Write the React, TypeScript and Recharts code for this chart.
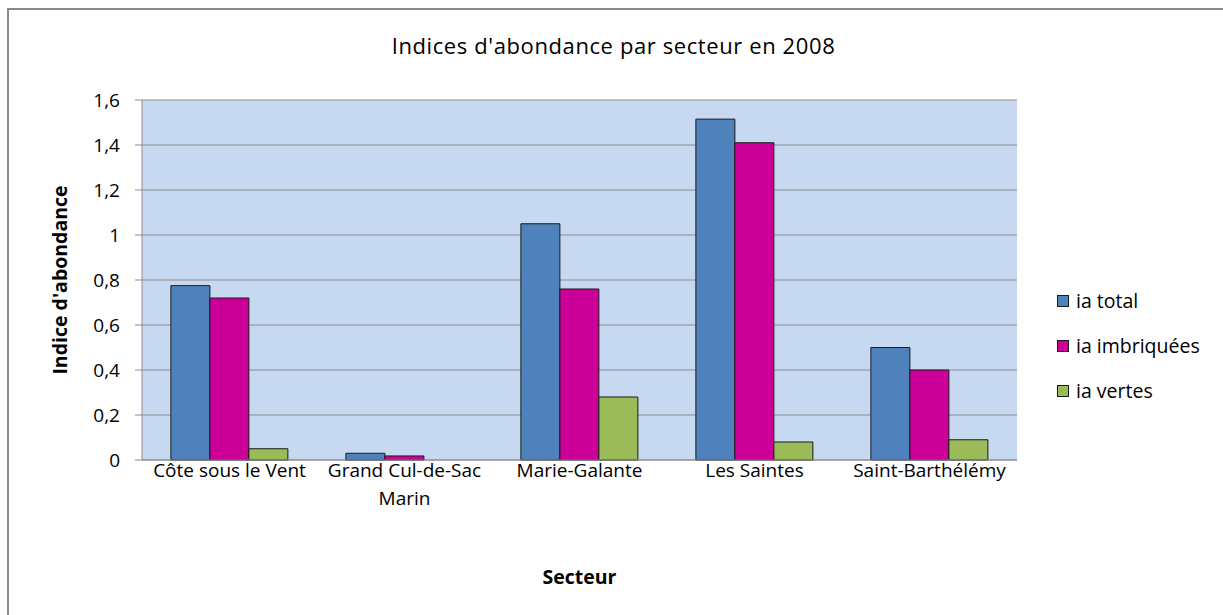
import { Bar, BarChart, CartesianGrid, Label, Text, XAxis, YAxis } from "recharts";

const sectors = ["Côte sous le Vent", "Grand Cul-de-Sac Marin", "Marie-Galante", "Les Saintes", "Saint-Barthélémy"];
const iaTotal = [0.775, 0.03, 1.05, 1.515, 0.5];
const iaImbriquees = [0.72, 0.018, 0.76, 1.41, 0.4];
const iaVertes = [0.05, 0, 0.28, 0.08, 0.09];
const yTicks = [0, 0.2, 0.4, 0.6, 0.8, 1, 1.2, 1.4, 1.6];

const series = [
  { key: "total", name: "ia total", color: "#4F81BD" },
  { key: "imbriquees", name: "ia imbriquées", color: "#CC0099" },
  { key: "vertes", name: "ia vertes", color: "#9BBB59" },
];

const data = sectors.map((sector, i) => ({
  sector,
  total: iaTotal[i],
  imbriquees: iaImbriquees[i],
  vertes: iaVertes[i],
}));

const FONT = "'Open Sans', Lato, sans-serif";

function SectorTick({ x, y, payload }: any) {
  return (
    <Text x={x} y={y} dy={-4} width={170} textAnchor="middle" verticalAnchor="start"
      lineHeight={28} style={{ fontSize: 19, fontFamily: FONT }} fill="#000">
      {payload.value}
    </Text>
  );
}

export default function App() {
  return (
    <div style={{ position: "fixed", left: 0, top: 0, width: 1223, height: 615, overflow: "hidden", background: "#fff" }}>
      <div style={{ position: "absolute", left: 7, top: 8, width: 1240, height: 640, border: "2px solid #898989", boxSizing: "border-box" }} />
      <div style={{ position: "absolute", left: 0, top: 30, width: 1223, textAlign: "center", fontFamily: FONT, fontSize: 22, fontWeight: 500, letterSpacing: 0.6, color: "#000", paddingLeft: 2 }}>
        Indices d'abondance par secteur en 2008
      </div>
      <div style={{ position: "absolute" }}>
        <BarChart width={1223} height={615} data={data} barGap={0} barCategoryGap="16.5%"
          margin={{ top: 100, right: 206, bottom: 25, left: 0 }}>
          <CartesianGrid horizontal vertical={false} fill="#C6D9F0" stroke="#8C8C8C" />
          <XAxis dataKey="sector" height={130} tickLine={false} stroke="#8C8C8C" interval={0} tick={<SectorTick />}>
            <Label content={({ viewBox }: any) => (
              <text x={viewBox.x + viewBox.width / 2} y={584} textAnchor="middle" fontFamily={FONT} fontSize={19.5} fontWeight={700}>Secteur</text>
            )} />
          </XAxis>
          <YAxis width={142} domain={[0, 1.6]} ticks={yTicks} tickSize={7} tickMargin={15} stroke="#8C8C8C"
            tickFormatter={(v: number) => String(v).replace(".", ",")}
            tick={{ fill: "#000", fontSize: 19, fontFamily: FONT }}>
            <Label content={({ viewBox }: any) => (
              <text x={67} y={viewBox.y + viewBox.height / 2} transform={`rotate(-90, 67, ${viewBox.y + viewBox.height / 2})`}
                textAnchor="middle" fontFamily={FONT} fontSize={19.5} fontWeight={700}>Indice d'abondance</text>
            )} />
          </YAxis>
          {series.map((s) => (
            <Bar key={s.key} dataKey={s.key} name={s.name} fill={s.color} stroke="#1a1a1a" strokeWidth={1} isAnimationActive={false} />
          ))}
        </BarChart>
      </div>
      <div style={{ position: "absolute", left: 1057, top: 278, fontFamily: FONT, fontSize: 19.5 }}>
        {series.map((s) => (
          <div key={s.key} style={{ display: "flex", alignItems: "center", height: 45 }}>
            <span style={{ width: 10, height: 10, background: s.color, border: "1px solid #1a1a1a", marginRight: 7, display: "inline-block" }} />
            {s.name}
          </div>
        ))}
      </div>
    </div>
  );
}
